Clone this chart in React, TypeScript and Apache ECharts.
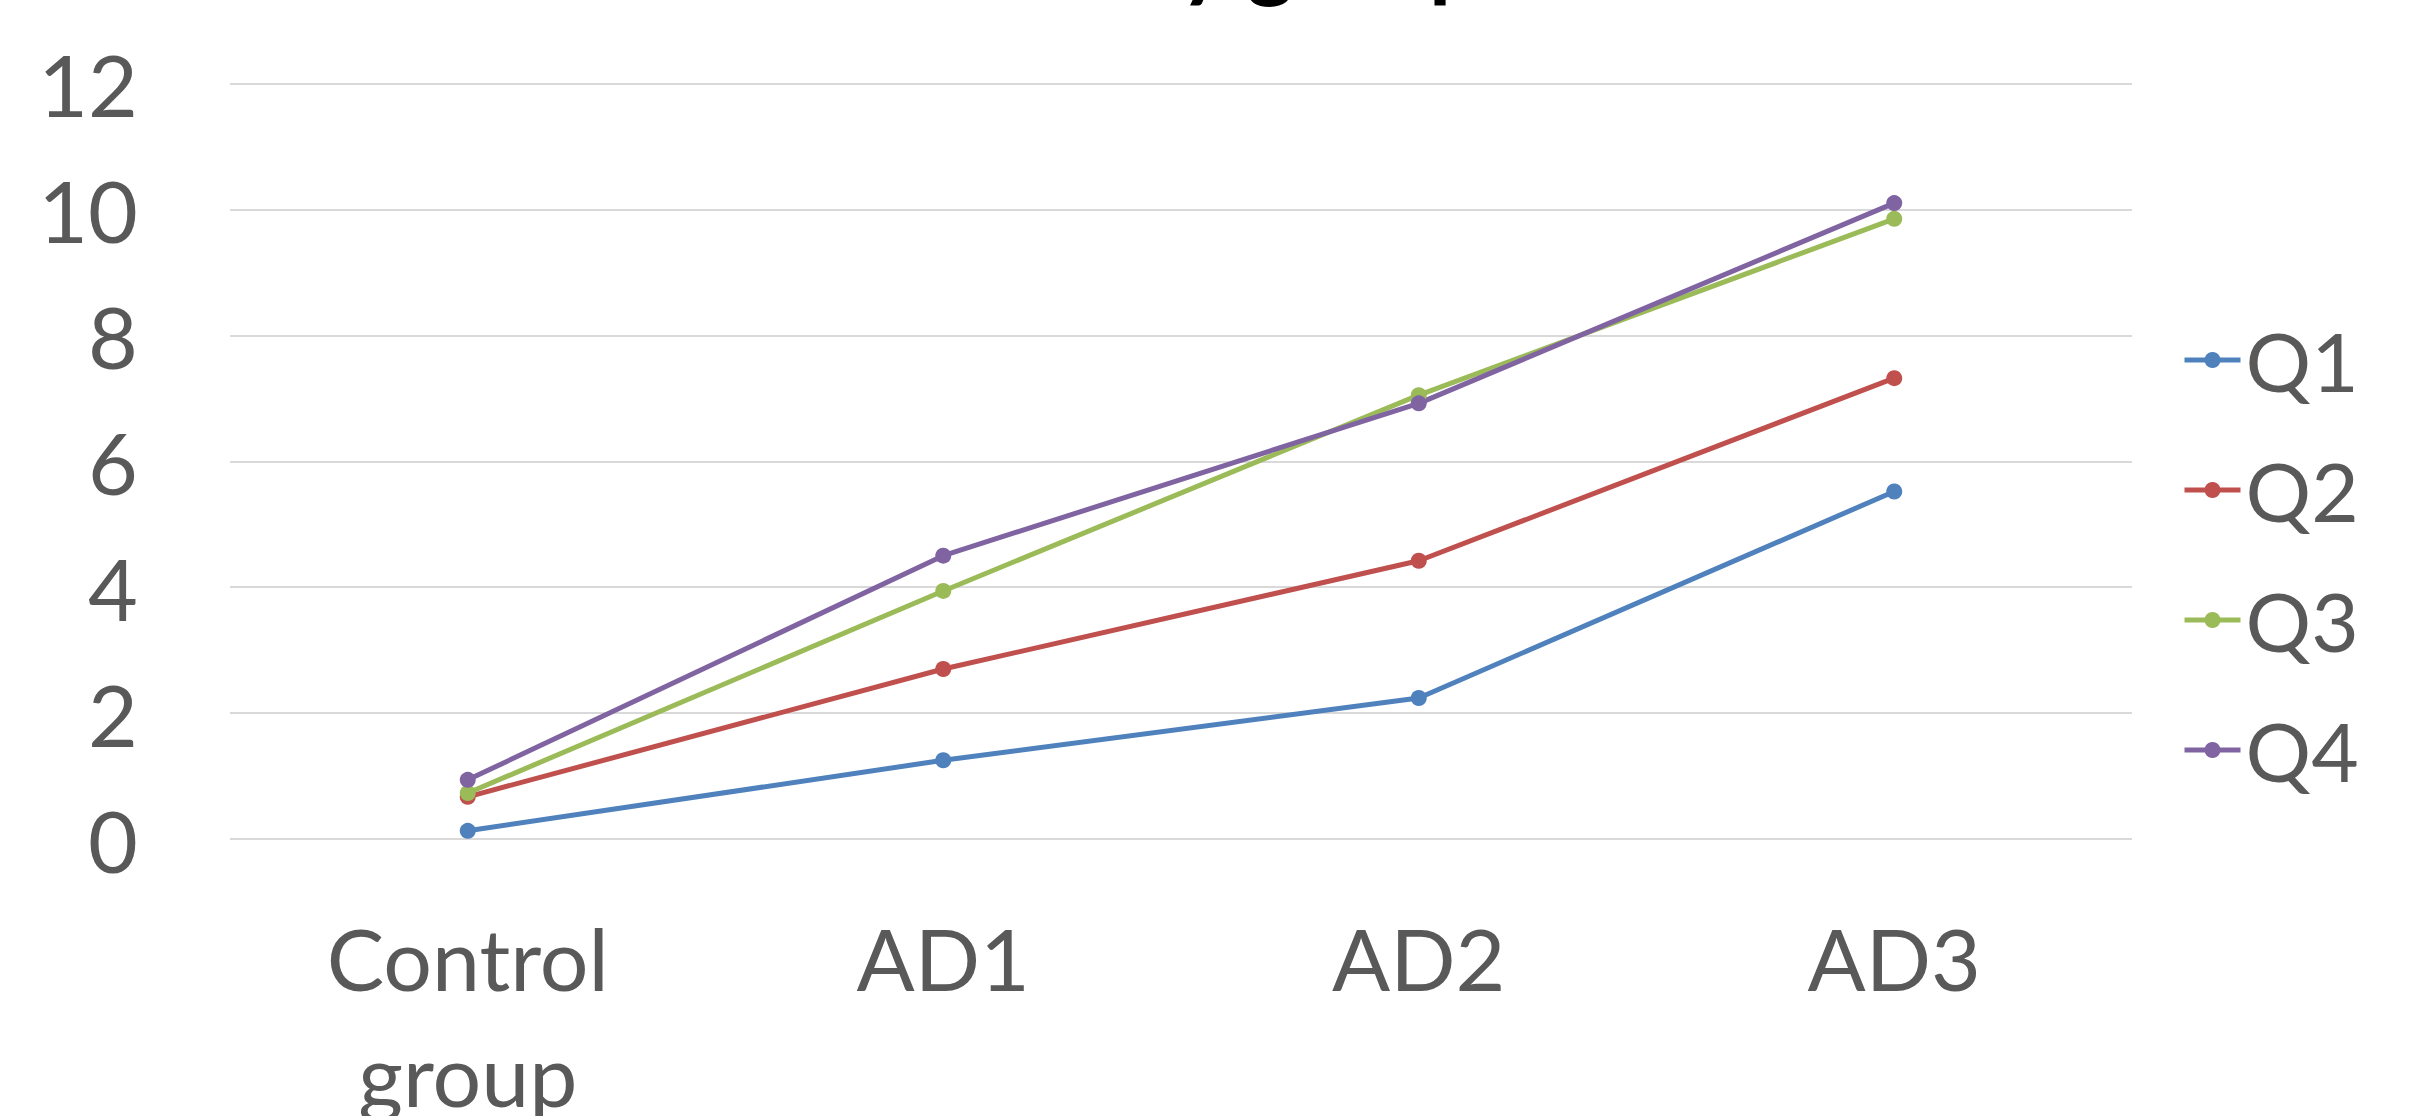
import React, { useEffect, useRef } from "react";
import * as echarts from "echarts";

const categories = ["Control group", "AD1", "AD2", "AD3"];
const seriesNames = ["Q1", "Q2", "Q3", "Q4"];
const q1 = [0.13, 1.25, 2.24, 5.52];
const q2 = [0.67, 2.7, 4.42, 7.32];
const q3 = [0.73, 3.94, 7.05, 9.85];
const q4 = [0.94, 4.5, 6.92, 10.1];
const colors = ["#4F81BD", "#C0504D", "#9BBB59", "#8064A2"];
const yTicks = { min: 0, max: 12, interval: 2 };
const titleText = "by group";

export default function App() {
  const ref = useRef<HTMLDivElement>(null);
  useEffect(() => {
    document.body.style.margin = "0";
    const chart = echarts.init(ref.current!, undefined, { renderer: "svg" });
    const values = [q1, q2, q3, q4];
    const font = "Lato";
    chart.setOption({
      animation: false,
      backgroundColor: "#ffffff",
      graphic: [
        {
          type: "text",
          left: 1130,
          top: -90,
          style: {
            text: titleText,
            fontFamily: font,
            fontSize: 90,
            fontWeight: "bold",
            fill: "#000000",
          },
        },
      ],
      legend: {
        orient: "vertical",
        left: 2177,
        top: 314,
        itemWidth: 56,
        itemHeight: 20,
        itemGap: 48,
        data: seriesNames,
        lineStyle: { width: 5 },
        textStyle: { fontFamily: font, fontSize: 82, color: "#595959" },
      },
      grid: {
        left: 230,
        width: 1902,
        top: 83.5,
        height: 755.5,
        containLabel: false,
        outerBoundsMode: "none",
      },
      xAxis: {
        type: "category",
        data: categories,
        boundaryGap: true,
        axisLine: { show: false },
        axisTick: { show: false },
        axisLabel: {
          interval: 0,
          margin: 60,
          fontFamily: font,
          fontSize: 86,
          lineHeight: 116,
          color: "#595959",
          formatter: (v: string) => v.replace(" ", "\n"),
        },
      },
      yAxis: {
        type: "value",
        min: yTicks.min,
        max: yTicks.max,
        interval: yTicks.interval,
        axisLine: { show: false },
        axisTick: { show: false },
        axisLabel: { margin: 92, fontFamily: font, fontSize: 86, color: "#595959" },
        splitLine: { lineStyle: { color: "#D9D9D9", width: 2 } },
      },
      series: seriesNames.map((name, i) => ({
        name,
        type: "line",
        data: values[i],
        symbol: "circle",
        symbolSize: 16,
        color: colors[i],
        lineStyle: { width: 5, color: colors[i] },
        itemStyle: { color: colors[i] },
      })),
    });
    return () => chart.dispose();
  }, []);
  return (
    <div
      ref={ref}
      style={{ position: "fixed", left: 0, top: 0, width: 2409, height: 1116 }}
    />
  );
}
